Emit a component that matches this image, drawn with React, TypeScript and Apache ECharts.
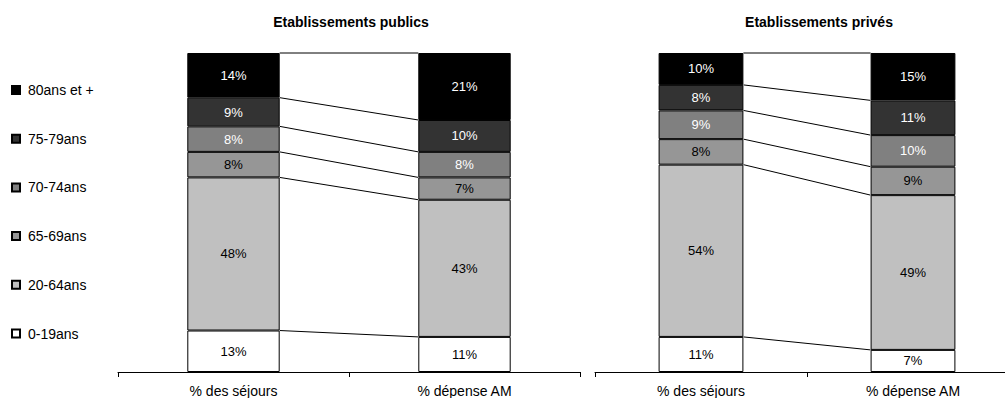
import React, { useEffect, useRef } from "react";
import * as echarts from "echarts";

const categories = ["% des séjours", "% dépense AM"];
const ageGroups = ["0-19ans", "20-64ans", "65-69ans", "70-74ans", "75-79ans", "80ans et +"];
const groupColors = ["#ffffff", "#c0c0c0", "#969696", "#808080", "#333333", "#000000"];
const labelColors = ["#000000", "#000000", "#000000", "#ffffff", "#ffffff", "#ffffff"];

const panelTitles = ["Etablissements publics", "Etablissements privés"];
// values per age group, bottom to top
const publicSejours = [13, 48, 8, 8, 9, 14];
const publicDepense = [11, 43, 7, 8, 10, 21];
const priveSejours = [11, 54, 8, 9, 8, 10];
const priveDepense = [7, 49, 9, 10, 11, 15];

const FONT = "'Liberation Sans', Arial, sans-serif";

function normalize(arr: number[]) {
  const s = arr.reduce((a, b) => a + b, 0);
  return arr.map((v) => (v / s) * 100);
}

function cumulative(arr: number[]) {
  const out: number[] = [];
  let c = 0;
  for (const v of arr) {
    c += v;
    out.push(c);
  }
  return out;
}

export default function App() {
  const ref = useRef<HTMLDivElement>(null);

  useEffect(() => {
    if (!ref.current) return;
    const chart = echarts.init(ref.current, undefined, { renderer: "svg" });

    const panels = [
      { a: publicSejours, b: publicDepense },
      { a: priveSejours, b: priveDepense },
    ];

    const series: any[] = [];
    panels.forEach((p, pi) => {
      const na = normalize(p.a);
      const nb = normalize(p.b);
      ageGroups.forEach((g, gi) => {
        series.push({
          name: g,
          type: "bar",
          stack: "panel" + pi,
          xAxisIndex: pi,
          yAxisIndex: pi,
          barWidth: "40%",
          itemStyle: { color: groupColors[gi], borderColor: "#000", borderWidth: 1 },
          label: {
            show: true,
            position: "inside",
            color: labelColors[gi],
            fontSize: 13,
            fontFamily: FONT,
            formatter: (params: any) => params.data.raw + "%",
          },
          data: [
            { value: na[gi], raw: p.a[gi] },
            { value: nb[gi], raw: p.b[gi] },
          ],
        });
      });
      const ca = cumulative(na);
      const cb = cumulative(nb);
      const lineData = ca.map((v, i) => [0, v, cb[i]]);
      series.push({
        name: "lines" + pi,
        type: "custom",
        xAxisIndex: pi,
        yAxisIndex: pi,
        silent: true,
        encode: { x: 0, y: 1 },
        data: lineData,
        z: 3,
        renderItem: (params: any, api: any) => {
          const p1 = api.coord([0, api.value(1)]);
          const p2 = api.coord([1, api.value(2)]);
          const band = api.size([1, 0])[0];
          const hw = band * 0.2;
          return {
            type: "line",
            shape: { x1: p1[0] + hw, y1: p1[1], x2: p2[0] - hw, y2: p2[1] },
            style: { stroke: "#000", lineWidth: 1 },
          };
        },
      });
    });

    const grids = [
      { left: 118, top: 53, width: 462, height: 319 },
      { left: 595, top: 53, width: 424, height: 319 },
    ];

    chart.setOption({
      animation: false,
      backgroundColor: "#ffffff",
      title: [
        {
          text: panelTitles[0],
          left: 346,
          top: 10,
          textAlign: "center",
          textStyle: { fontSize: 14, fontWeight: "bold", fontFamily: FONT, color: "#000" },
        },
        {
          text: panelTitles[1],
          left: 814,
          top: 10,
          textAlign: "center",
          textStyle: { fontSize: 14, fontWeight: "bold", fontFamily: FONT, color: "#000" },
        },
      ],
      legend: {
        orient: "vertical",
        left: 11,
        top: 83,
        padding: 0,
        itemWidth: 8,
        itemHeight: 8,
        itemGap: 34.7,
        icon: "rect",
        data: ageGroups.slice().reverse(),
        textStyle: { fontSize: 14, fontFamily: FONT, color: "#000", lineHeight: 14, padding: [0, 0, 0, 3] },
        selectedMode: false,
      },
      grid: grids,
      xAxis: grids.map((_, i) => ({
        type: "category",
        gridIndex: i,
        data: categories,
        axisLine: { lineStyle: { color: "#000", width: 1 } },
        axisTick: { show: true, length: 5, lineStyle: { color: "#000" } },
        axisLabel: { fontSize: 14, fontFamily: FONT, color: "#000", margin: 12 },
      })),
      yAxis: grids.map((_, i) => ({
        type: "value",
        gridIndex: i,
        min: 0,
        max: 100,
        show: false,
        splitLine: { show: false },
      })),
      series,
    });

    return () => chart.dispose();
  }, []);

  return (
    <div
      ref={ref}
      style={{ position: "fixed", left: 0, top: 0, width: 1030, height: 398, background: "#fff" }}
    />
  );
}
